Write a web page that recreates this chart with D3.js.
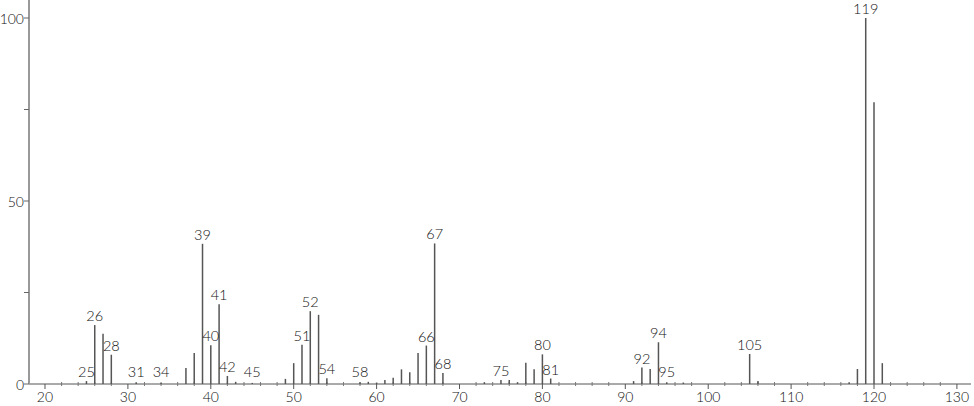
<!DOCTYPE html>
<html>
<head>
<meta charset="utf-8">
<script src="https://cdn.jsdelivr.net/npm/d3@7"></script>
<style>
  body { margin: 0; background: #fff; }
  text { font-family: Lato, "Open Sans", sans-serif; font-weight: 300; fill: #111; }
</style>
</head>
<body>
<div id="chart"></div>
<script>
var w = 974, h = 406;

// m/z values and relative intensities
var mz        = [25, 26, 27, 28, 31, 34, 37, 38, 39, 40, 41, 42, 43, 45, 49, 50, 51, 52, 53, 54,
                 58, 59, 60, 61, 62, 63, 64, 65, 66, 67, 68, 73, 75, 76, 77, 78, 79, 80, 81,
                 91, 92, 93, 94, 95, 97, 105, 106, 117, 118, 119, 120, 121];
var intensity = [0.8, 16.1, 13.7, 8.0, 0.5, 0.3, 4.4, 8.5, 38.3, 10.6, 21.8, 2.2, 0.6, 0.3, 1.4, 5.7, 10.7, 19.9, 18.9, 1.6,
                 0.5, 0.6, 0.4, 1.1, 1.7, 4.0, 3.2, 8.5, 10.5, 38.4, 3.0, 0.5, 1.1, 1.1, 0.5, 5.8, 4.0, 8.1, 1.5,
                 0.8, 4.5, 4.1, 11.4, 0.5, 0.4, 8.2, 0.8, 0.5, 4.1, 100, 77.0, 5.7];
var labelled  = [25, 26, 28, 31, 34, 39, 40, 41, 42, 45, 51, 52, 54, 58, 66, 67, 68, 75, 80, 81, 92, 94, 95, 105, 119];
var xTicks    = [20, 30, 40, 50, 60, 70, 80, 90, 100, 110, 120, 130];
var yTicks    = [0, 50, 100];

var svg = d3.select("#chart").append("svg")
    .attr("width", w)
    .attr("height", h);

var x = d3.scaleLinear().domain([18.07, 131.7]).range([29, 971]);
var y = d3.scaleLinear().domain([0, 100]).range([384, 18]);

var peaks = mz.map(function(d, i) { return {mz: d, v: intensity[i]}; });

// x axis line + ticks
svg.append("line")
    .attr("x1", x.range()[0]).attr("x2", x.range()[1])
    .attr("y1", y(0)).attr("y2", y(0))
    .attr("stroke", "#555").attr("stroke-width", 1);

var minor = d3.range(20, 131, 2).filter(function(d) { return d % 10 != 0; });
svg.append("g").selectAll("line")
    .data(minor).enter().append("line")
    .attr("x1", function(d) { return x(d); }).attr("x2", function(d) { return x(d); })
    .attr("y1", y(0) - 2).attr("y2", y(0) + 2)
    .attr("stroke", "#777");

svg.append("g").selectAll("line")
    .data(xTicks).enter().append("line")
    .attr("x1", function(d) { return x(d); }).attr("x2", function(d) { return x(d); })
    .attr("y1", y(0)).attr("y2", y(0) + 5)
    .attr("stroke", "#555");

svg.append("g").selectAll("text")
    .data(xTicks).enter().append("text")
    .attr("x", function(d) { return x(d); })
    .attr("y", 396)
    .attr("text-anchor", "middle")
    .attr("dominant-baseline", "central")
    .attr("font-size", 14)
    .text(function(d) { return d; });

// y axis
svg.append("line")
    .attr("x1", 29).attr("x2", 29)
    .attr("y1", 0).attr("y2", y(0))
    .attr("stroke", "#999").attr("stroke-width", 2);

svg.append("g").selectAll("line")
    .data([0, 25, 50, 75, 100]).enter().append("line")
    .attr("x1", 24).attr("x2", 29)
    .attr("y1", function(d) { return y(d); }).attr("y2", function(d) { return y(d); })
    .attr("stroke", "#666");

svg.append("g").selectAll("text")
    .data(yTicks).enter().append("text")
    .attr("x", 24)
    .attr("y", function(d) { return y(d); })
    .attr("text-anchor", "end")
    .attr("dominant-baseline", "central")
    .attr("font-size", 14)
    .text(function(d) { return d; });

// peaks
svg.append("g").selectAll("line")
    .data(peaks).enter().append("line")
    .attr("x1", function(d) { return x(d.mz); }).attr("x2", function(d) { return x(d.mz); })
    .attr("y1", y(0)).attr("y2", function(d) { return y(d.v); })
    .attr("stroke", "#555").attr("stroke-width", 1.5);

// peak labels
svg.append("g").selectAll("text")
    .data(peaks.filter(function(d) { return labelled.indexOf(d.mz) >= 0; }))
    .enter().append("text")
    .attr("x", function(d) { return x(d.mz); })
    .attr("y", function(d) { return Math.min(y(d.v), 381) - 4; })
    .attr("text-anchor", "middle")
    .attr("font-size", 14.5)
    .text(function(d) { return d.mz; });
</script>
</body>
</html>
